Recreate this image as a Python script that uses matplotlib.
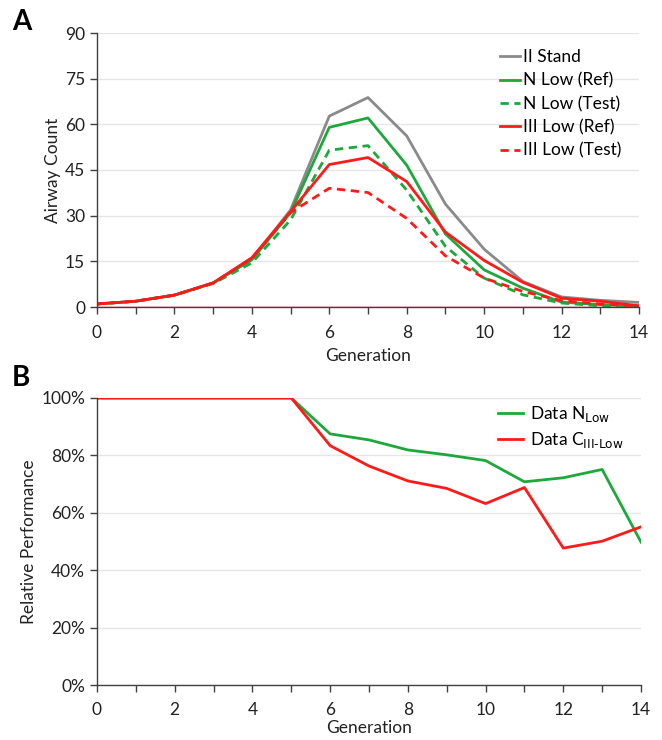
import matplotlib
matplotlib.use("Agg")
import matplotlib.pyplot as plt
from matplotlib.ticker import FuncFormatter, MultipleLocator

plt.rcParams['font.family'] = ['Lato', 'DejaVu Sans']

# ── Data ──
gen = list(range(15))
ii_stand = [1, 1.9, 3.9, 7.9, 15.7, 31.9, 62.7, 68.8, 56.2, 33.8, 19.0, 8.4, 3.3, 2.2, 1.5]
n_low_ref = [1, 1.9, 3.9, 7.9, 15.5, 31.0, 59.0, 62.1, 46.6, 24.0, 12.2, 6.2, 1.6, 0.8, 0.3]
n_low_test = [1, 1.9, 3.9, 7.7, 14.5, 28.6, 51.5, 53.0, 38.4, 19.9, 9.5, 4.0, 1.3, 0.4, 0.1]
iii_low_ref = [1, 1.9, 3.9, 7.9, 16.2, 31.3, 46.8, 49.1, 41.2, 24.6, 15.3, 8.1, 2.9, 1.9, 0.4]
iii_low_test = [1, 1.9, 3.9, 7.9, 16.0, 31.0, 39.0, 37.6, 29.1, 16.8, 9.5, 5.1, 2.1, 1.0, 0.3]
baseline = [0] * 15

perf_n = [100, 100, 100, 100, 100, 100, 87.5, 85.4, 81.9, 80.2, 78.2, 70.8, 72.2, 75.1, 49.8]
perf_c = [100, 100, 100, 100, 100, 100, 83.4, 76.3, 71.1, 68.5, 63.2, 68.8, 47.7, 50.1, 55.1]

GREEN = "#1ea83c"
RED = "#ff1a1a"
GRAY = "#8a8a8a"
LW = 2.0
FS = 12.5

fig = plt.figure(figsize=(6.62, 7.40), dpi=100)
W, H = 662, 740
axA = fig.add_axes([97 / W, 1 - 307 / H, 542 / W, 274 / H])
axB = fig.add_axes([97 / W, 1 - 685 / H, 544 / W, 287 / H])


def style(ax, xpad, lpad):
    for s in ("top", "right"):
        ax.spines[s].set_visible(False)
    for s in ("left", "bottom"):
        ax.spines[s].set_color("#404040")
        ax.spines[s].set_linewidth(1.0)
    ax.grid(axis="y", color="#e6e6e6", linewidth=1.0)
    ax.set_axisbelow(True)
    ax.tick_params(direction="out", length=5, width=1, color="#404040",
                   labelsize=FS, labelcolor="#222222")
    ax.tick_params(axis="x", which="both", pad=xpad)
    ax.tick_params(axis="x", which="minor", direction="out", length=5, width=1,
                   color="#404040")
    ax.set_xlim(0, 14)
    ax.xaxis.set_major_locator(MultipleLocator(2))
    ax.xaxis.set_minor_locator(MultipleLocator(1))
    ax.set_xlabel("Generation", fontsize=FS, color="#222222", labelpad=lpad)


# ── Panel A ──
axA.plot(gen, baseline, color=RED, lw=1.0)
axA.plot(gen, ii_stand, color=GRAY, lw=LW, label="II Stand")
axA.plot(gen, n_low_ref, color=GREEN, lw=LW, label="N Low (Ref)")
axA.plot(gen, n_low_test, color=GREEN, lw=LW, ls=(0, (3, 2)), label="N Low (Test)")
axA.plot(gen, iii_low_ref, color=RED, lw=LW, label="III Low (Ref)")
axA.plot(gen, iii_low_test, color=RED, lw=LW, ls=(0, (3, 2)), label="III Low (Test)")
style(axA, 8, 5)
axA.set_ylim(0, 90)
axA.yaxis.set_major_locator(MultipleLocator(15))
axA.set_ylabel("Airway Count", fontsize=FS, color="#222222", labelpad=3)
axA.legend(loc="upper right", bbox_to_anchor=(0.99, 0.985), frameon=False,
           fontsize=FS, handlelength=1.1, handletextpad=0.2, labelspacing=0.42,
           borderpad=0.2)
fig.text(12 / W, 1 - 22 / H, "A", fontsize=20, fontweight="bold", va="center")

# ── Panel B ──
axB.plot(gen, perf_n, color=GREEN, lw=LW, label=r"Data N$_{\mathrm{Low}}$")
axB.plot(gen, perf_c, color=RED, lw=LW, label=r"Data C$_{\mathrm{III\text{-}Low}}$")
style(axB, 7, 2)
axB.set_ylim(0, 100)
axB.yaxis.set_major_locator(MultipleLocator(20))
axB.yaxis.set_major_formatter(FuncFormatter(lambda v, p: f"{v:.0f}%"))
axB.set_ylabel("Relative Performance", fontsize=FS, color="#222222", labelpad=3)
axB.legend(loc="upper right", bbox_to_anchor=(0.99, 1.02), frameon=False,
           fontsize=FS, handlelength=1.4, handletextpad=0.4, labelspacing=0.3,
           borderpad=0.2)
fig.text(12 / W, 1 - 378 / H, "B", fontsize=20, fontweight="bold", va="center")

fig.savefig("out.png", dpi=100)
